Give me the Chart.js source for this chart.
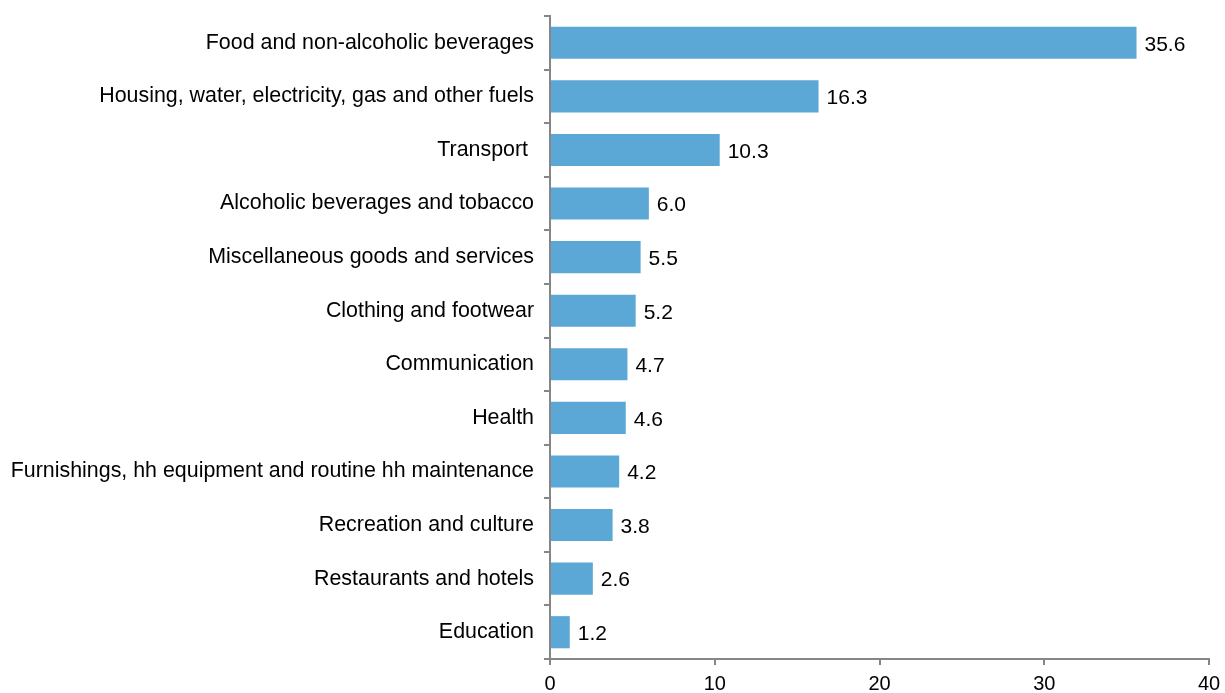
<!DOCTYPE html>
<html>
<head>
<meta charset="utf-8">
<script src="https://cdn.jsdelivr.net/npm/chart.js@4"></script>
<style>
  html, body { margin: 0; padding: 0; background: #fff; }
  #wrap { width: 1225px; height: 693px; }
</style>
</head>
<body>
<div id="wrap"><canvas id="myChart" width="1225" height="693"></canvas></div>
<script>
"use strict";

const categories = [
    'Food and non-alcoholic beverages',
    'Housing, water, electricity, gas and other fuels',
    'Transport ',
    'Alcoholic beverages and tobacco',
    'Miscellaneous goods and services',
    'Clothing and footwear',
    'Communication',
    'Health',
    'Furnishings, hh equipment and routine hh maintenance',
    'Recreation and culture',
    'Restaurants and hotels',
    'Education'
];
const shares = [35.6, 16.3, 10.3, 6.0, 5.5, 5.2, 4.7, 4.6, 4.2, 3.8, 2.6, 1.2];
const xTicks = [0, 10, 20, 30, 40];

Chart.defaults.font.family = "'Liberation Sans', Arial, sans-serif";
Chart.defaults.font.size = 21;
Chart.defaults.color = '#000';

// value labels at the end of each bar
const valueLabels = {
    id: 'valueLabels',
    afterDatasetsDraw(chart) {
        const ctx = chart.ctx;
        const meta = chart.getDatasetMeta(0);
        ctx.save();
        ctx.font = "21px 'Liberation Sans', Arial, sans-serif";
        ctx.fillStyle = '#000';
        ctx.textBaseline = 'middle';
        ctx.textAlign = 'left';
        meta.data.forEach((bar, i) => {
            ctx.fillText(shares[i].toFixed(1), bar.x + 8, bar.y + 2);
        });
        ctx.restore();
    }
};

let ctx = document.getElementById('myChart').getContext('2d');
let barChart = new Chart(ctx, {
    type: 'bar',
    data: {
        labels: categories,
        datasets: [{
            data: shares,
            backgroundColor: '#5BA7D6',
            borderWidth: 0,
            categoryPercentage: 0.6,
            barPercentage: 1.0
        }]
    },
    options: {
        indexAxis: 'y',
        responsive: false,
        animation: false,
        layout: { autoPadding: false, padding: { left: 0, right: 16, top: 16, bottom: 0 } },
        plugins: { legend: { display: false }, tooltip: { enabled: false } },
        scales: {
            x: {
                min: 0,
                max: 40,
                afterBuildTicks(scale) {
                    scale.ticks = xTicks.map(v => ({ value: v }));
                },
                afterFit(scale) {
                    scale.height = 34;
                    scale.paddingLeft = 0;
                    scale.paddingRight = 0;
                },
                border: { color: '#868686', width: 2 },
                grid: { drawOnChartArea: false, drawTicks: true, tickLength: 6, color: '#868686', lineWidth: 2 },
                ticks: { padding: 7, font: { size: 20 } }
            },
            y: {
                afterFit(scale) {
                    scale.width = 550;
                    scale.paddingTop = 0;
                    scale.paddingBottom = 0;
                },
                border: { color: '#868686', width: 2 },
                grid: { offset: true, drawOnChartArea: false, drawTicks: true, tickLength: 6, color: '#868686', lineWidth: 2 },
                ticks: { padding: 10, font: { size: 21.4 } }
            }
        }
    },
    plugins: [valueLabels]
});
</script>
</body>
</html>
